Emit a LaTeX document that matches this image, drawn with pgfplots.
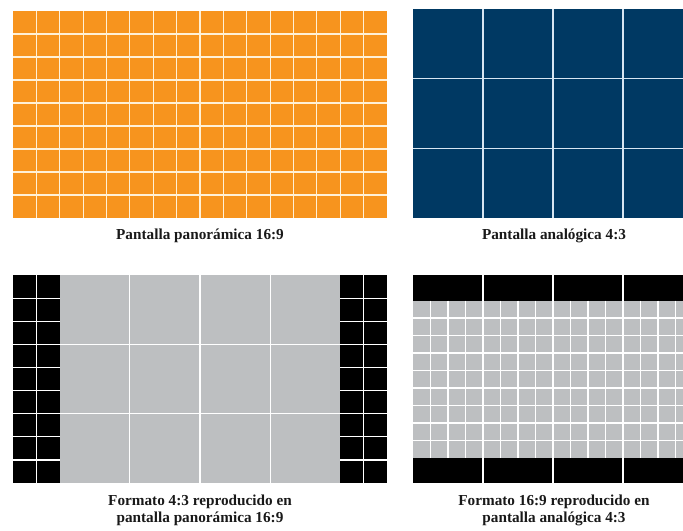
\documentclass[border=0pt]{standalone}
\usepackage{pgfplots}
\pgfplotsset{compat=1.18}
\usepackage{fontspec}
\setmainfont{Liberation Serif}

\definecolor{panelorange}{RGB}{247,148,30}
\definecolor{panelnavy}{RGB}{0,57,99}
\definecolor{panelgray}{RGB}{189,191,193}
\definecolor{captext}{RGB}{25,25,25}
\definecolor{creamline}{RGB}{255,240,215}
\definecolor{blueline}{RGB}{215,230,242}

\newcommand{\capfont}{\fontsize{15.3}{17}\selectfont\bfseries}

\begin{document}
\begin{tikzpicture}
\begin{axis}[
    width=683bp, height=531bp,
    scale only axis,
    xmin=0, xmax=683,
    ymin=0, ymax=531,
    y dir=reverse,
    axis line style={draw=none},
    ticks=none,
    clip=true,
    unbounded coords=jump,
    gridline/.style={white, line width=1.2bp},
]

% --- top left: 16:9 panel
\addplot[fill=panelorange, draw=none] coordinates {(13,11)(387,11)(387,218)(13,218)} -- cycle;
\addplot[gridline, creamline] coordinates {
    (36.375,11)(36.375,218) (nan,nan) (59.75,11)(59.75,218) (nan,nan)
    (83.125,11)(83.125,218) (nan,nan) (106.5,11)(106.5,218) (nan,nan)
    (129.875,11)(129.875,218) (nan,nan) (153.25,11)(153.25,218) (nan,nan)
    (176.625,11)(176.625,218) (nan,nan) (200,11)(200,218) (nan,nan)
    (223.375,11)(223.375,218) (nan,nan) (246.75,11)(246.75,218) (nan,nan)
    (270.125,11)(270.125,218) (nan,nan) (293.5,11)(293.5,218) (nan,nan)
    (316.875,11)(316.875,218) (nan,nan) (340.25,11)(340.25,218) (nan,nan)
    (363.625,11)(363.625,218) (nan,nan)
    (13,34)(387,34) (nan,nan) (13,57)(387,57) (nan,nan)
    (13,80)(387,80) (nan,nan) (13,103)(387,103) (nan,nan)
    (13,126)(387,126) (nan,nan) (13,149)(387,149) (nan,nan)
    (13,172)(387,172) (nan,nan) (13,195)(387,195)
};

% --- top right: 4:3 panel (cut at the right edge)
\addplot[fill=panelnavy, draw=none] coordinates {(413,9)(693,9)(693,218)(413,218)} -- cycle;
\addplot[gridline, blueline] coordinates {
    (483,9)(483,218) (nan,nan) (553,9)(553,218) (nan,nan) (623,9)(623,218) (nan,nan)
    (413,78.67)(693,78.67) (nan,nan) (413,148.33)(693,148.33)
};

% --- bottom left: 4:3 inside 16:9
\addplot[fill=black, draw=none] coordinates {(13,275)(59.75,275)(59.75,483)(13,483)} -- cycle;
\addplot[fill=black, draw=none] coordinates {(340.25,275)(387,275)(387,483)(340.25,483)} -- cycle;
\addplot[fill=panelgray, draw=none] coordinates {(59.75,275)(340.25,275)(340.25,483)(59.75,483)} -- cycle;
\addplot[gridline] coordinates {
    (36.375,275)(36.375,483) (nan,nan) (363.625,275)(363.625,483) (nan,nan)
    (129.875,275)(129.875,483) (nan,nan) (200,275)(200,483) (nan,nan)
    (270.125,275)(270.125,483) (nan,nan)
    (13,344.3)(387,344.3) (nan,nan) (13,413.7)(387,413.7) (nan,nan)
    (13,298.1)(59.75,298.1) (nan,nan) (340.25,298.1)(387,298.1) (nan,nan)
    (13,321.2)(59.75,321.2) (nan,nan) (340.25,321.2)(387,321.2) (nan,nan)
    (13,367.4)(59.75,367.4) (nan,nan) (340.25,367.4)(387,367.4) (nan,nan)
    (13,390.6)(59.75,390.6) (nan,nan) (340.25,390.6)(387,390.6) (nan,nan)
    (13,436.8)(59.75,436.8) (nan,nan) (340.25,436.8)(387,436.8) (nan,nan)
    (13,459.9)(59.75,459.9) (nan,nan) (340.25,459.9)(387,459.9)
};

% --- bottom right: 16:9 inside 4:3
\addplot[fill=black, draw=none] coordinates {(413,275)(693,275)(693,483)(413,483)} -- cycle;
\addplot[fill=panelgray, draw=none] coordinates {(413,300.5)(693,300.5)(693,458)(413,458)} -- cycle;
\addplot[gridline] coordinates {
    (483,275)(483,483) (nan,nan) (553,275)(553,483) (nan,nan) (623,275)(623,483) (nan,nan)
    (430.5,300.5)(430.5,458) (nan,nan) (448,300.5)(448,458) (nan,nan) (465.5,300.5)(465.5,458) (nan,nan)
    (500.5,300.5)(500.5,458) (nan,nan) (518,300.5)(518,458) (nan,nan) (535.5,300.5)(535.5,458) (nan,nan)
    (570.5,300.5)(570.5,458) (nan,nan) (588,300.5)(588,458) (nan,nan) (605.5,300.5)(605.5,458) (nan,nan)
    (640.5,300.5)(640.5,458) (nan,nan) (658,300.5)(658,458) (nan,nan) (675.5,300.5)(675.5,458) (nan,nan)
    (413,318)(693,318) (nan,nan) (413,335.5)(693,335.5) (nan,nan)
    (413,353)(693,353) (nan,nan) (413,370.5)(693,370.5) (nan,nan)
    (413,388)(693,388) (nan,nan) (413,405.5)(693,405.5) (nan,nan)
    (413,423)(693,423) (nan,nan) (413,440.5)(693,440.5)
};

% --- captions
\node[font=\capfont, text=captext] at (axis cs:200,236) {Pantalla panorámica 16:9};
\node[font=\capfont, text=captext] at (axis cs:554,236) {Pantalla analógica 4:3};
\node[font=\capfont, text=captext, align=center] at (axis cs:200,510) {Formato 4:3 reproducido en\\pantalla panorámica 16:9};
\node[font=\capfont, text=captext, align=center] at (axis cs:554,510) {Formato 16:9 reproducido en\\pantalla analógica 4:3};

\end{axis}
\end{tikzpicture}
\end{document}
